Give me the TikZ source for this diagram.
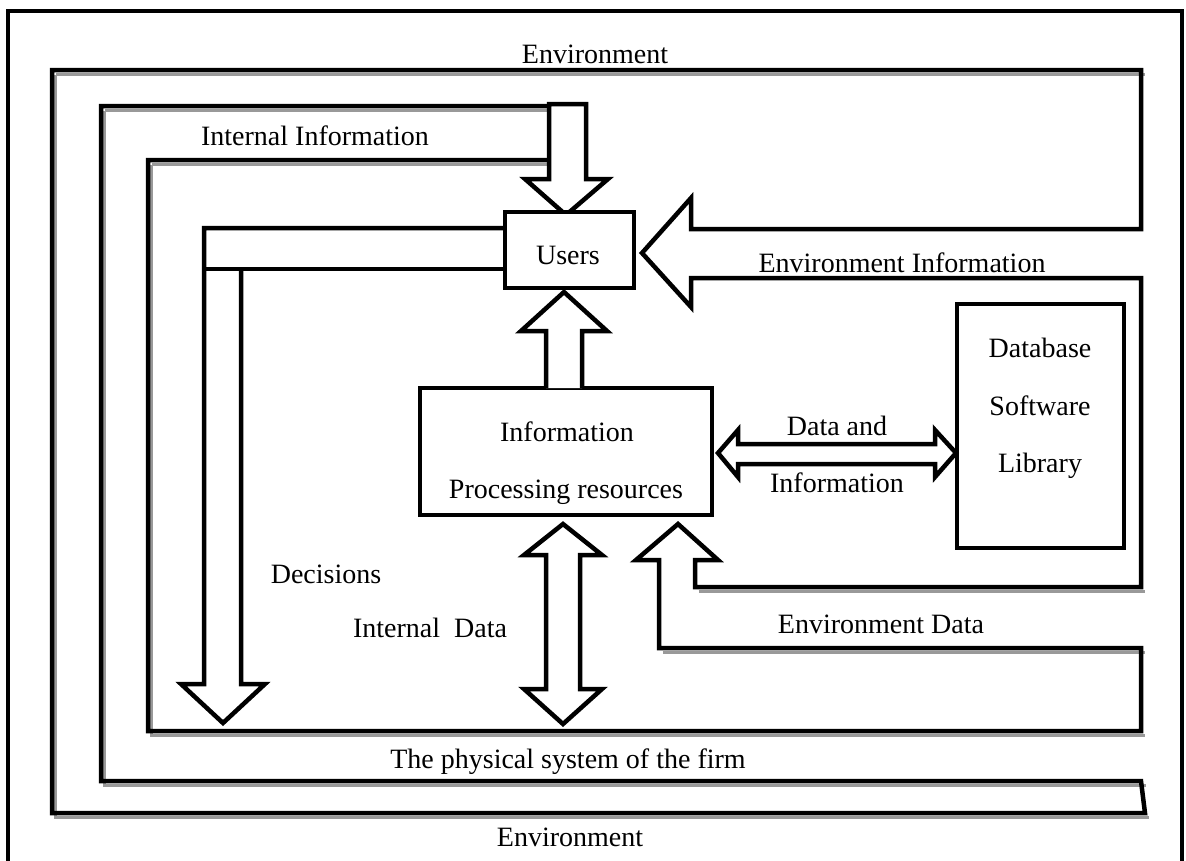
\documentclass[tikz,border=0pt]{standalone}
\usepackage{fontspec}
\setmainfont{Liberation Serif}
\begin{document}
\begin{tikzpicture}[x=1pt,y=-1pt,
  wire/.style={line width=4.5pt, line join=miter},
  dropshade/.style={line width=3.5pt, draw=black!40, xshift=3.5pt, yshift=-4.5pt},
  box/.style={draw, line width=4.5pt, fill=white, inner sep=0pt},
  blockarrow/.style={wire, fill=white},
  lbl/.style={anchor=base, inner sep=0pt, font=\fontsize{28}{34}\selectfont}]

\useasboundingbox (0,0) rectangle (1186,860);

% outer frame
\draw[wire] (8,11) rectangle (1182,880);

% drop shadows of the nested bands
\draw[dropshade] (52,70) -- (1141,70);
\draw[dropshade] (52,70) -- (52,813) -- (1145,813);
\draw[dropshade] (101,106) -- (545,106);
\draw[dropshade] (101,106) -- (101,781) -- (1142,781);
\draw[dropshade] (148,160) -- (545,160);
\draw[dropshade] (148,160) -- (148,731) -- (1141,731);
\draw[dropshade] (695,587) -- (1141,587);
\draw[dropshade] (659,648) -- (1141,648);

% band labels
\node[lbl] (envTop) at (595,63) {Environment};
\node[lbl] (intInfo) at (315,145) {Internal Information};
\node[lbl] (envInfo) at (902,272) {Environment Information};
\node[lbl] (dataAnd) at (837,435) {Data and};
\node[lbl] (dataInfo) at (837,492) {Information};
\node[lbl] (decisions) at (326,583) {Decisions};
\node[lbl] (intData) at (430,637) {Internal\ \ Data};
\node[lbl] (envData) at (881,633) {Environment Data};
\node[lbl] (physical) at (568,768) {The physical system of the firm};
\node[lbl] (envBottom) at (570,846) {Environment};

% nested bands with the environment information and environment data arrows
\draw[wire] (549,160) -- (148,160) -- (148,731) -- (1141,731) -- (1141,648)
  -- (659,648) -- (659,560) -- (636,560) -- (678,524) -- (718,560) -- (695,560)
  -- (695,587) -- (1141,587) -- (1141,278) -- (691,278) -- (691,307)
  -- (642,253) -- (691,198) -- (691,229) -- (1141,229) -- (1141,70)
  -- (52,70) -- (52,813) -- (1145,813) -- (1141,781) -- (101,781)
  -- (101,106) -- (549,106);

% internal information arrow down to the users
\draw[blockarrow] (549,104) -- (586,104) -- (586,179) -- (608,179)
  -- (566,215) -- (525,179) -- (549,179) -- cycle;

% boxes
\node[box, minimum width=129pt, minimum height=76pt] (users) at (569.5,250) {};
\node[box, minimum width=292pt, minimum height=127pt] (ipr) at (566,451.5) {};
\node[box, minimum width=167pt, minimum height=244pt] (db) at (1040.5,426) {};

% decisions pipe from the users
\draw[wire] (users.west |- 0,228) -- (204,228) -- (204,684) -- (181,684)
  -- (223,723) -- (265,684) -- (241,684) -- (241,269);
\draw[wire] (204,269) -- (users.west |- 0,269);

% information up to the users
\draw[blockarrow] (546,388) -- (546,331) -- (521,331) -- (564,292)
  -- (607,331) -- (582,331) -- (582,388);

% data and information exchange
\draw[blockarrow] (718,453) -- (738,430) -- (738,444) -- (935,444)
  -- (935,430) -- (956,453) -- (935,477) -- (935,464) -- (738,464)
  -- (738,477) -- cycle;

% internal data, both ways
\draw[blockarrow] (563,524) -- (602,555) -- (580,555) -- (580,689)
  -- (602,689) -- (563,724) -- (524,689) -- (546,689) -- (546,555)
  -- (524,555) -- cycle;

% box labels
\node[lbl] (usersT) at (568,264) {Users};
\node[lbl] (iprA) at (567,441) {Information};
\node[lbl] (iprB) at (566,498) {Processing resources};
\node[lbl] (dbA) at (1040,357) {Database};
\node[lbl] (dbB) at (1040,415) {Software};
\node[lbl] (dbC) at (1040,472) {Library};
\end{tikzpicture}
\end{document}
